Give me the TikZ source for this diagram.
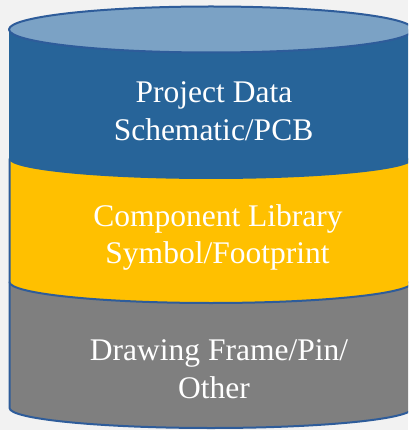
\documentclass[tikz,border=0pt]{standalone}
\usepackage{fontspec}
\setmainfont{Liberation Serif}
\definecolor{bg}{HTML}{F2F2F2}
\definecolor{cblue}{HTML}{276499}
\definecolor{ctop}{HTML}{7BA2C5}
\definecolor{cline}{HTML}{2E5C9A}
\definecolor{cyel}{HTML}{FFC000}
\definecolor{cgray}{HTML}{7F7F7F}
\tikzset{
  layer/.style={draw=cline, line width=2pt, line join=round},
  lbl/.style={text=white, anchor=base, inner sep=0pt, font=\fontsize{31.5}{38}\selectfont},
}
\begin{document}
\begin{tikzpicture}[x=1pt,y=1pt]
\useasboundingbox (0,0) rectangle (408,-430);
\clip (0,0) rectangle (408,-430);
\fill[bg] (0,0) rectangle (408,-430);
% gray layer
\path[layer, fill=cgray] (9.5,-282) -- (9.5,-408) arc[start angle=180, end angle=360, x radius=201.5pt, y radius=20pt] -- (412.5,-282) -- cycle;
% yellow layer
\path[layer, fill=cyel] (9.5,-159) -- (9.5,-282) arc[start angle=180, end angle=360, x radius=201.5pt, y radius=21pt] -- (412.5,-159) -- cycle;
% blue layer
\path[fill=cblue] (9,-29.5) -- (9,-159) arc[start angle=180, end angle=360, x radius=202pt, y radius=20pt] -- (413,-29.5) -- cycle;
% top ellipse
\path[layer, fill=ctop] (211,-29.5) ellipse[x radius=202pt, y radius=23pt];
% labels
\node[lbl] (p1) at (214,-103) {Project Data};
\node[lbl] (p2) at (213.5,-141) {Schematic/PCB};
\node[lbl] (c1) at (218,-226) {Component Library};
\node[lbl] (c2) at (217.5,-263) {Symbol/Footprint};
\node[lbl] (d1) at (219,-360) {Drawing Frame/Pin/};
\node[lbl] (d2) at (214,-398) {Other};
\end{tikzpicture}
\end{document}
